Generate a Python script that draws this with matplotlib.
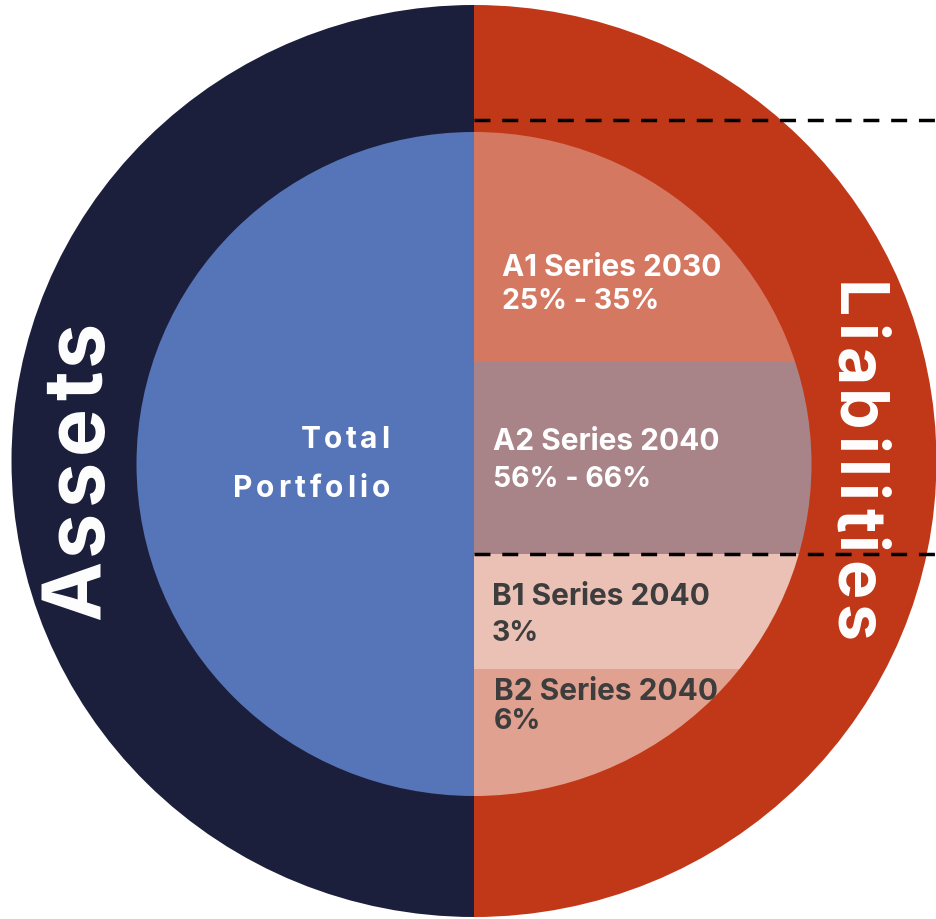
import numpy as np
import matplotlib
matplotlib.use("Agg")
import matplotlib.pyplot as plt
from matplotlib.patches import Ellipse, Rectangle
from matplotlib.font_manager import FontProperties

# ---- data ----
segments = ["A1 Series 2030", "A2 Series 2040", "B1 Series 2040", "B2 Series 2040"]
ranges = ["25% - 35%", "56% - 66%", "3%", "6%"]
band_share = [0.346, 0.289, 0.173, 0.192]   # share of inner-circle height (top to bottom)
band_colors = ["#d47862", "#a88489", "#ebc0b5", "#e1a190"]
text_colors = ["white", "white", "#3d3d3d", "#3d3d3d"]
outer_labels = ["Assets", "Liabilities"]
center_label = ["Total", "Portfolio"]

NAVY = "#1b1f3b"
RED = "#c13818"
BLUE = "#5674b8"

plt.rcParams['font.family'] = ['Inter', 'DejaVu Sans']

W, H = 937, 920
fig = plt.figure(figsize=(W / 100, H / 100), dpi=100)
ax = fig.add_axes([0, 0, 1, 1])
ax.set_xlim(0, W)
ax.set_ylim(H, 0)
ax.axis("off")
renderer = fig.canvas.get_renderer()

cx = 474
# outer circle
ocy, ow, oh = 462, 925, 912
left_clip = Rectangle((0, 0), cx, H, transform=ax.transData, visible=False)
right_clip = Rectangle((cx, 0), W - cx, H, transform=ax.transData, visible=False)
ax.add_patch(left_clip); ax.add_patch(right_clip)

e = Ellipse((cx, ocy), ow, oh, facecolor=NAVY, edgecolor="none")
ax.add_patch(e); e.set_clip_path(left_clip)
e = Ellipse((cx, ocy), ow, oh, facecolor=RED, edgecolor="none")
ax.add_patch(e); e.set_clip_path(right_clip)

# inner circle
icy, iw, ih = 465, 675, 664
e = Ellipse((cx, icy), iw, ih, facecolor=BLUE, edgecolor="none")
ax.add_patch(e); e.set_clip_path(left_clip)

inner_clip = Ellipse((cx, icy), iw, ih, transform=ax.transData, visible=False)
ax.add_patch(inner_clip)
top = icy - ih / 2
edges = top + ih * np.concatenate([[0], np.cumsum(band_share)])
for i, c in enumerate(band_colors):
    r = Rectangle((cx, edges[i]), iw / 2 + 5, edges[i + 1] - edges[i],
                  facecolor=c, edgecolor="none")
    ax.add_patch(r)
    r.set_clip_path(inner_clip)

# dashed lines
for y in [121, edges[2]]:
    ax.plot([cx, W], [y, y], color="black", lw=2.5, dashes=(4.6, 3.4),
            solid_capstyle="butt", dash_capstyle="butt")

# labels in bands
label_pos = [(502, 268, 302), (493, 442, 480), (492, 597, 634), (494, 692, 722)]
for (x, y1, y2), s, rg, tc in zip(label_pos, segments, ranges, text_colors):
    ax.text(x, y1, s, color=tc, fontsize=21.5, fontweight="bold", va="center", ha="left")
    ax.text(x, y2, rg, color=tc, fontsize=20.5, fontweight="bold", va="center", ha="left")


def ink_w(s, fp):
    if not s:
        return 0.0
    t = ax.text(0, 0, s, fontproperties=fp)
    w = t.get_window_extent(renderer).width
    t.remove()
    return w


def tracked(x, y, s, size, track, align, rotation, color):
    fp = FontProperties(family=['Inter', 'DejaVu Sans'], weight="bold", size=size)
    total = ink_w(s, fp) + track * (len(s) - 1)
    d = {0: (1, 0), 90: (0, -1), -90: (0, 1)}[rotation]
    off = {"left": 0, "center": -total / 2, "right": -total}[align]
    for i, ch in enumerate(s):
        pos = off + ink_w(s[:i + 1], fp) - ink_w(ch, fp) + i * track
        ax.text(x + d[0] * pos, y + d[1] * pos, ch, fontproperties=fp, color=color,
                rotation=rotation, rotation_mode="anchor", ha="left", va="baseline")


# center label (letter-spaced)
tracked(389, 448, center_label[0], 21.5, 3.4, "right", 0, "white")
tracked(390, 497, center_label[1], 21.5, 4.0, "right", 0, "white")

# outer labels
tracked(101, 470, outer_labels[0], 58, 5.5, "center", 90, "white")
tracked(836, 462, outer_labels[1], 47.5, 5.3, "center", -90, "white")

fig.savefig("out.png", dpi=100)
